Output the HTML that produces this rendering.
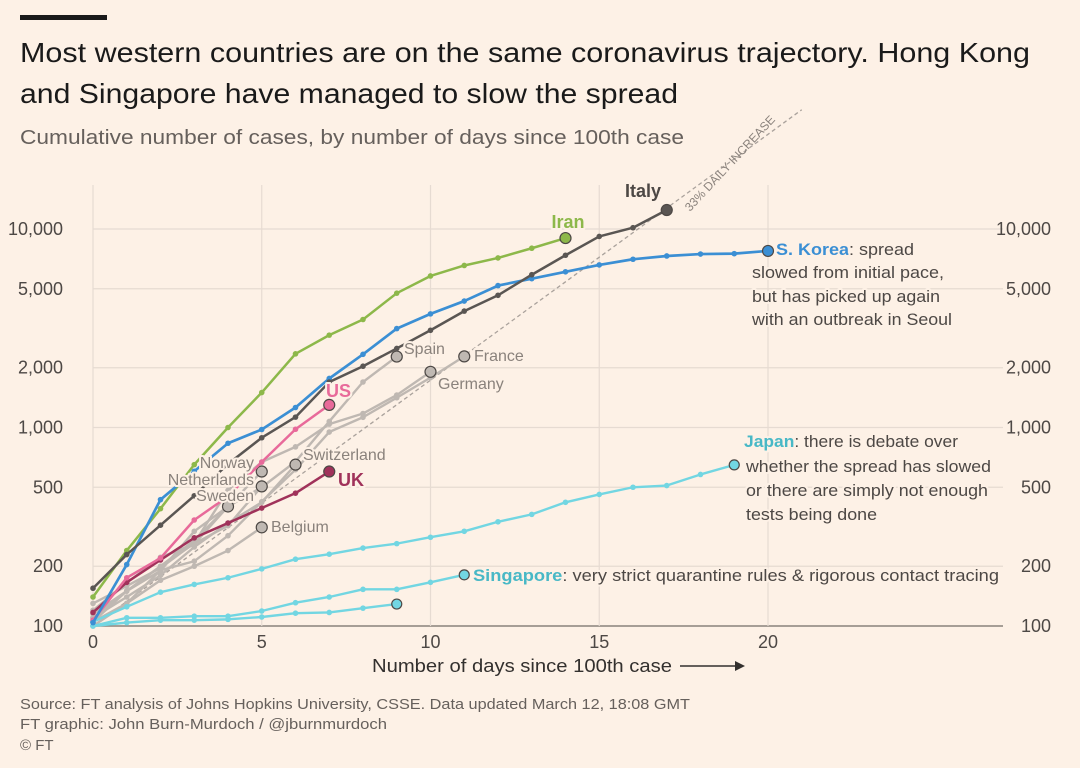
<!DOCTYPE html>
<html><head><meta charset="utf-8"><style>
body{margin:0;background:#fdf1e6;width:1080px;height:768px;overflow:hidden;font-family:"Liberation Sans",sans-serif}
svg{position:absolute;left:0;top:0}
.t{font-family:"Liberation Sans",sans-serif}
.halo{paint-order:stroke;stroke:#fdf1e6;stroke-width:4px;stroke-linejoin:round}
</style></head><body>
<svg id="c" width="1080" height="768">
<rect x="20" y="15" width="87" height="5" fill="#1a1a1a"/>
<text class="t" x="20" y="62" font-size="28" textLength="1010" lengthAdjust="spacingAndGlyphs" fill="#1a1a1a">Most western countries are on the same coronavirus trajectory. Hong Kong</text>
<text class="t" x="20" y="103" font-size="28" textLength="658" lengthAdjust="spacingAndGlyphs" fill="#1a1a1a">and Singapore have managed to slow the spread</text>
<text class="t" x="20" y="144" font-size="20" textLength="664" lengthAdjust="spacingAndGlyphs" fill="#66605c">Cumulative number of cases, by number of days since 100th case</text>
<g id="grid"></g><g id="series"></g><g id="labels"></g>
<text class="t" x="372" y="672" font-size="18" textLength="300" lengthAdjust="spacingAndGlyphs" fill="#33302e">Number of days since 100th case</text>
<line x1="680" y1="666" x2="735" y2="666" stroke="#33302e" stroke-width="1.5"/>
<path d="M735,661 L745,666 L735,671 Z" fill="#33302e"/>
<text class="t" x="20" y="709" font-size="15" textLength="670" lengthAdjust="spacingAndGlyphs" fill="#66605c">Source: FT analysis of Johns Hopkins University, CSSE. Data updated March 12, 18:08 GMT</text>
<text class="t" x="20" y="729" font-size="15" textLength="367" lengthAdjust="spacingAndGlyphs" fill="#66605c">FT graphic: John Burn-Murdoch / @jburnmurdoch</text>
<text class="t" x="20" y="750" font-size="15" fill="#66605c">© FT</text>
</svg>
<script>
const yTicks=[100,200,500,1000,2000,5000,10000];
const yTickLabels=["100","200","500","1,000","2,000","5,000","10,000"];
const xTicks=[0,5,10,15,20];
const iran=[140,240,390,650,1000,1500,2350,2920,3500,4750,5800,6550,7150,8000,9000];
const korea=[104,204,433,602,833,977,1261,1766,2337,3150,3736,4335,5186,5621,6088,6593,7041,7313,7478,7513,7755];
const italy=[155,229,322,453,655,888,1128,1694,2036,2502,3089,3858,4636,5883,7375,9172,10149,12462];
const spain=[120,165,222,259,400,500,673,1073,1695,2277];
const france=[100,130,191,212,285,423,613,949,1126,1412,1784,2281];
const germany=[130,159,196,262,482,670,799,1040,1176,1457,1908];
const switzerland=[110,140,180,250,330,420,650];
const norway=[105,150,190,300,400,600];
const netherlands=[115,150,200,260,320,505];
const sweden=[110,150,200,270,400];
const belgium=[105,130,170,200,240,314];
const us=[107,175,220,342,450,670,980,1300];
const uk=[117,166,215,278,330,393,467,600];
const japan=[105,125,148,162,175,194,217,230,247,260,280,300,335,365,420,460,500,510,580,648];
const singapore=[100,110,110,112,112,119,131,140,153,153,166,181];
const hongkong=[100,104,107,107,108,111,116,117,123,129];
const NS="http://www.w3.org/2000/svg";
const X=d=>93+d*33.75;
const Y=v=>626-198.5*Math.log10(v/100);
function el(p,tag,a){const e=document.createElementNS(NS,tag);for(const k in a)e.setAttribute(k,a[k]);p.appendChild(e);return e;}
const grid=document.getElementById('grid'),ser=document.getElementById('series'),lab=document.getElementById('labels');
yTicks.forEach((v,i)=>{
 const l=el(grid,'line',{x1:93,x2:1003,y1:Y(v),y2:Y(v),stroke:v===100?'#8a827c':'#e6dbd2','stroke-width':v===100?1.5:1.2});
 
 
 const a=el(grid,'text',{x:63,y:Y(v)+6,'text-anchor':'end','font-size':18,fill:'#4d4845',class:'t'});a.textContent=yTickLabels[i];
 
 
 const b=el(grid,'text',{x:1051,y:Y(v)+6,'text-anchor':'end','font-size':18,fill:'#4d4845',class:'t'});b.textContent=yTickLabels[i];
 
 
});
xTicks.forEach(d=>{
 const l=el(grid,'line',{x1:X(d),x2:X(d),y1:185,y2:626,stroke:'#e6dbd2','stroke-width':1.2});
 
 
 const t=el(grid,'text',{x:X(d),y:648,'text-anchor':'middle','font-size':18,fill:'#4d4845',class:'t'});t.textContent=d;
 
 
});
const ref=el(ser,'line',{x1:X(0),y1:Y(100),x2:X(21),y2:Y(100*Math.pow(1.33,21)),stroke:'#aaa29c','stroke-width':1.3,'stroke-dasharray':'4,3'});


const rt=el(lab,'text',{x:690,y:212,'font-size':12,fill:'#8a827c',class:'t',transform:'rotate(-47 690 212)'});rt.textContent='33% DAILY INCREASE';


function draw(data,color,name,w,r){
 const pts=data.map((v,i)=>X(i)+','+Y(v)).join(' ');
 const p=el(ser,'polyline',{points:pts,fill:'none',stroke:color,'stroke-width':w,'stroke-linejoin':'round'});
 
 
 data.forEach((v,i)=>{
  const last=i===data.length-1;
  const c=el(ser,'circle',{cx:X(i),cy:Y(v),r:last?r:2.8,fill:color,stroke:last?'#4d4845':'none','stroke-width':1.2});
  
  
 });
}
const grey='#bfb8b2';
[['spain',spain],['france',france],['germany',germany],['switzerland',switzerland],['norway',norway],['netherlands',netherlands],['sweden',sweden],['belgium',belgium]].forEach(s=>draw(s[1],grey,s[0],2.4,5.5));
draw(hongkong,'#72d6e2','hong-kong',2.4,5);
draw(singapore,'#72d6e2','singapore',2.4,5);
draw(japan,'#72d6e2','japan',2.4,5);
draw(uk,'#a0325a','uk',2.5,5.5);
draw(us,'#e86a9a','us',2.5,5.5);
draw(iran,'#8db84a','iran',2.5,5.5);
draw(korea,'#3b8fd4','s-korea',2.7,5.5);
draw(italy,'#5a5653','italy',2.5,5.5);
function txt(x,y,s,color,size,bold,name,anchor,len){
 const a={x:x,y:y,'font-size':size,fill:color,class:'t halo','font-weight':bold?'bold':'normal','text-anchor':anchor||'start'};
 if(len){a.textLength=len;a.lengthAdjust='spacingAndGlyphs';}
 const t=el(lab,'text',a);
 t.innerHTML=s;
 
 
}
txt(643,197,'Italy','#4d4845',18,true,'italy-label','middle');
txt(568,228,'Iran','#8db84a',18,true,'iran-label','middle');
txt(776,255,'<tspan fill="#3b8fd4" font-weight="bold">S. Korea</tspan>: spread','#4d4845',16.5,false,'s-korea-label','start',138);
txt(752,278,'slowed from initial pace,','#4d4845',16.5,false,'s-korea-note','start',192);
txt(752,302,'but has picked up again','#4d4845',16.5,false,'s-korea-note','start',188);
txt(752,325,'with an outbreak in Seoul','#4d4845',16.5,false,'s-korea-note','start',200);
txt(404,354,'Spain','#8a827c',16,false,'spain-label');
txt(474,361,'France','#8a827c',16,false,'france-label');
txt(438,389,'Germany','#8a827c',16,false,'germany-label');
txt(326,397,'US','#e86a9a',18,true,'us-label');
txt(303,460,'Switzerland','#8a827c',16,false,'switzerland-label');
txt(338,486,'UK','#a0325a',18,true,'uk-label');
txt(254,468,'Norway','#8a827c',16,false,'norway-label','end');
txt(254,485,'Netherlands','#8a827c',16,false,'netherlands-label','end');
txt(254,501,'Sweden','#8a827c',16,false,'sweden-label','end');
txt(271,532,'Belgium','#8a827c',16,false,'belgium-label');
txt(744,447,'<tspan fill="#48b8c6" font-weight="bold">Japan</tspan>: there is debate over','#4d4845',16.5,false,'japan-label','start',214);
txt(746,472,'whether the spread has slowed','#4d4845',16.5,false,'japan-note','start',245);
txt(746,496,'or there are simply not enough','#4d4845',16.5,false,'japan-note','start',242);
txt(746,520,'tests being done','#4d4845',16.5,false,'japan-note','start',131);
txt(473,581,'<tspan fill="#48b8c6" font-weight="bold">Singapore</tspan>: very strict quarantine rules &amp; rigorous contact tracing','#4d4845',16.5,false,'singapore-label','start',526);
</script>
</body></html>
